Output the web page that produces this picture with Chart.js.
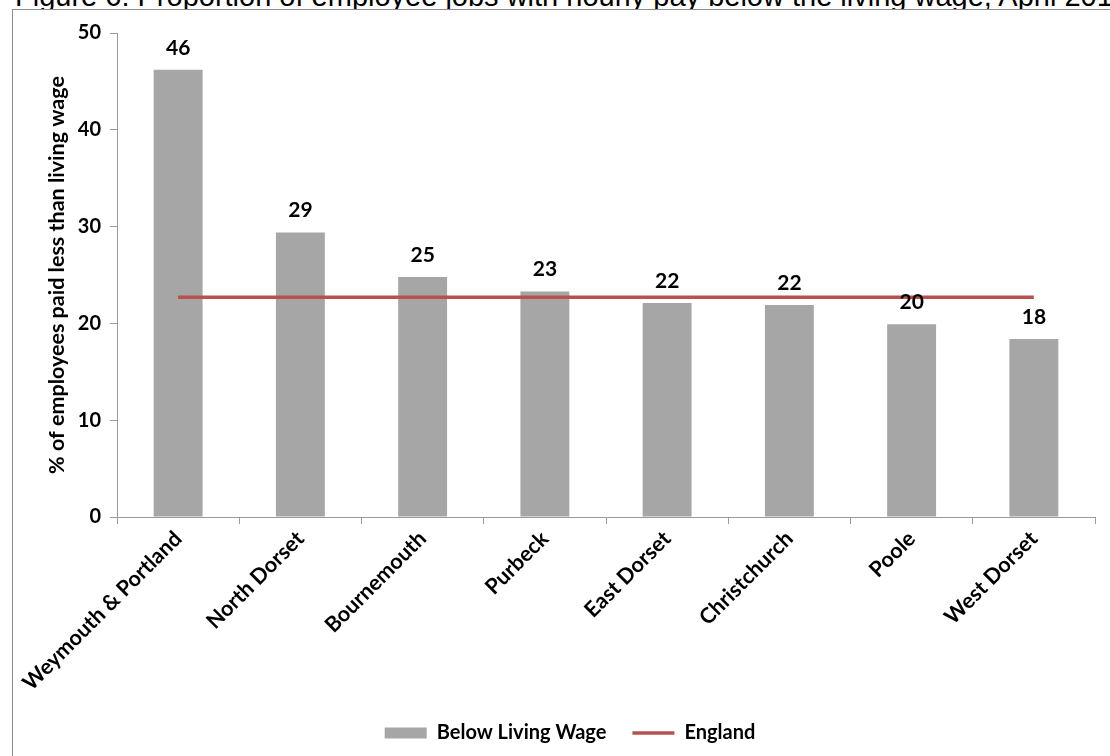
<!DOCTYPE html>
<html>
<head>
<meta charset="utf-8">
<script src="https://cdn.jsdelivr.net/npm/chart.js@4.4.1/dist/chart.umd.min.js"></script>
<style>
  html, body { margin: 0; padding: 0; background: #fff; width: 1110px; height: 756px; overflow: hidden; position: relative; }
  #title { position: absolute; left: 15px; top: -18px; font-family: "Liberation Sans", Arial, sans-serif; font-size: 29px; line-height: 29px; white-space: nowrap; color: #000; z-index: 1; }
  #frame { position: absolute; left: 12px; top: 9px; width: 1114px; height: 780px; border: 1px solid #8c8c8c; background: #fff; z-index: 2; }
  #c { display: block; }
</style>
</head>
<body>
<div id="title">Figure 6: Proportion of employee jobs with hourly pay below the living wage, April 2014</div>
<div id="frame"><canvas id="c" width="1114" height="770"></canvas></div>
<script>
const categories = ["Weymouth & Portland", "North Dorset", "Bournemouth", "Purbeck", "East Dorset", "Christchurch", "Poole", "West Dorset"];
const belowLivingWage = [46.2, 29.4, 24.8, 23.3, 22.1, 21.9, 19.9, 18.4];
const dataLabels = ["46", "29", "25", "23", "22", "22", "20", "18"];
const englandValue = [22.7, 22.7, 22.7, 22.7, 22.7, 22.7, 22.7, 22.7];
const yTicks = [0, 10, 20, 30, 40, 50];

const FONT = "Lato, 'Open Sans', sans-serif";

const barLabelPlugin = {
  id: 'barLabels',
  afterDatasetsDraw(chart) {
    const meta = chart.getDatasetMeta(0);
    const ctx = chart.ctx;
    ctx.save();
    ctx.font = "bold 21px " + FONT;
    ctx.fillStyle = '#000';
    ctx.textAlign = 'center';
    ctx.textBaseline = 'alphabetic';
    meta.data.forEach((bar, i) => {
      ctx.fillText(dataLabels[i], bar.x, bar.y - 15);
    });
    ctx.restore();
  }
};

new Chart(document.getElementById('c'), {
  type: 'bar',
  data: {
    labels: categories,
    datasets: [
      {
        type: 'bar',
        label: 'Below Living Wage',
        data: belowLivingWage,
        backgroundColor: '#a6a6a6',
        borderWidth: 0,
        categoryPercentage: 1.0,
        barPercentage: 0.4,
        pointStyle: 'rect',
        order: 2
      },
      {
        type: 'line',
        label: 'England',
        data: englandValue,
        borderColor: '#b7504e',
        backgroundColor: '#b7504e',
        borderWidth: 3.5,
        pointRadius: 0,
        pointHoverRadius: 0,
        pointStyle: 'line',
        fill: false,
        order: 1
      }
    ]
  },
  options: {
    responsive: false,
    animation: false,
    layout: { padding: { left: 0, top: 23, right: 0, bottom: 27 } },
    plugins: {
      title: { display: false },
      tooltip: { enabled: false },
      legend: {
        position: 'bottom',
        labels: {
          usePointStyle: true,
          pointStyleWidth: 42,
          boxHeight: 11,
          padding: 26,
          color: '#000',
          sort: (a, b) => a.datasetIndex - b.datasetIndex,
          font: { family: FONT, size: 20, weight: 'bold' }
        }
      }
    },
    scales: {
      x: {
        offset: true,
        grid: { offset: true, drawOnChartArea: false, drawTicks: true, tickLength: 7, color: '#9a9a9a' },
        border: { color: '#9a9a9a', width: 1 },
        ticks: {
          color: '#000',
          minRotation: 45,
          maxRotation: 45,
          autoSkip: false,
          padding: 2,
          font: { family: FONT, size: 21.5, weight: 'bold' }
        },
        afterFit(scale) { scale.height = 180; }
      },
      y: {
        min: 0,
        max: 50,
        afterBuildTicks(scale) { scale.ticks = yTicks.map(v => ({ value: v })); },
        grid: { drawOnChartArea: false, drawTicks: true, tickLength: 7, color: '#9a9a9a' },
        border: { color: '#9a9a9a', width: 1 },
        ticks: {
          color: '#000',
          padding: 9,
          font: { family: FONT, size: 20, weight: 'bold' }
        },
        title: {
          display: true,
          text: '% of employees paid less than living wage',
          color: '#000',
          padding: { top: 31, bottom: 0 },
          font: { family: FONT, size: 21.5, weight: 'bold' }
        },
        afterFit(scale) { scale.width = 104; }
      },
      yRightSpace: {
        position: 'right',
        display: true,
        min: 0,
        max: 50,
        grid: { display: false, drawTicks: false },
        border: { display: false },
        ticks: { display: false },
        afterFit(scale) { scale.width = 32; }
      }
    }
  },
  plugins: [barLabelPlugin]
});
</script>
</body>
</html>
